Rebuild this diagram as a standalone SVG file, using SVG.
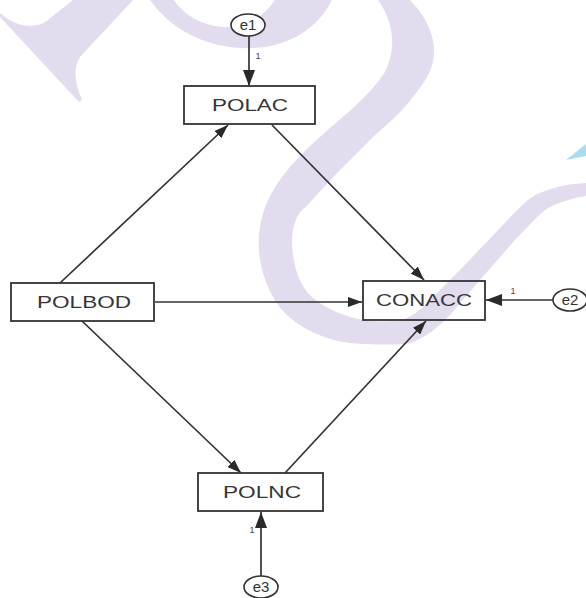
<svg xmlns="http://www.w3.org/2000/svg" width="586" height="598" viewBox="0 0 586 598">
<style>
.wm{fill:#e3dcee;stroke:none}
.box{fill:none;stroke:#333;stroke-width:1.8}
.err{fill:#fff;stroke:#333;stroke-width:1.6}
.lbl{font-family:"Liberation Sans",Arial,sans-serif;font-size:16px;fill:#363636;text-anchor:middle}
.elbl{font-family:"Liberation Sans",Arial,sans-serif;font-size:15px;fill:#333;text-anchor:middle}
.one{font-family:"Liberation Sans",Arial,sans-serif;font-size:9px;fill:#444;text-anchor:middle}
.edge{stroke:#333;stroke-width:1.7;fill:none}
</style>
<defs>
<marker id="ah" viewBox="0 0 14 10" refX="14" refY="5" markerWidth="14" markerHeight="10" markerUnits="userSpaceOnUse" orient="auto"><path d="M0,0 L14,5 L0,10 z" fill="#2a2a2a"/></marker>
<marker id="ahb" viewBox="0 0 16 12" refX="16" refY="6" markerWidth="16" markerHeight="12" markerUnits="userSpaceOnUse" orient="auto"><path d="M0,0 L16,6 L0,12 z" fill="#2a2a2a"/></marker>
</defs>
<rect width="586" height="598" fill="#fff"/>
<g id="watermark">
<path class="wm" d="M73,0 L133,0 L80,57 Q70,72 82,100 L79,102 L0,17 L0,13 Q22,32 44,23 Z"/>
<path class="wm" d="M150,0 C175,35 215,50 255,48 C290,46 318,28 332,0 L275,0 C260,22 238,30 215,26 C195,22 182,12 174,0 Z"/>
<path class="wm" d="M378,0 C392,20 398,45 385,72 C370,95 345,115 330,128 C305,150 278,175 266,205 C254,235 256,272 278,305 C295,328 330,344 365,344 C390,345 405,345 413,342 C430,335 440,325 450,315 L480,280 L515,240 C530,225 540,212 550,207 C565,200 575,198 586,196 L586,183 C570,184 555,186 535,195 C520,205 510,218 500,228 L460,270 L425,305 C415,315 405,320 395,321 C380,322 370,321 363,320 C345,317 325,308 313,298 C298,285 292,262 292,240 C293,222 298,212 306,207 C316,195 328,183 338,172 L375,135 C395,118 405,108 412,98 C425,82 432,72 434,55 C435,38 428,18 410,0 Z"/>
<polygon points="566,160 586,144 586,156" fill="#a9dcef"/>
</g>
<g id="connectors">
<line class="edge" x1="60" y1="283" x2="228" y2="125" marker-end="url(#ah)"/>
<line class="edge" x1="272" y1="125" x2="424" y2="280" marker-end="url(#ah)"/>
<line class="edge" x1="155" y1="302" x2="362" y2="302" marker-end="url(#ah)"/>
<line class="edge" x1="82" y1="321" x2="241" y2="473" marker-end="url(#ah)"/>
<line class="edge" x1="285" y1="473" x2="426" y2="321" marker-end="url(#ah)"/>
<line class="edge" x1="249" y1="36" x2="249" y2="86" stroke-width="2" marker-end="url(#ahb)"/>
<line class="edge" x1="553" y1="300" x2="486" y2="300" stroke-width="2" marker-end="url(#ahb)"/>
<line class="edge" x1="261" y1="576" x2="261" y2="512" stroke-width="2" marker-end="url(#ahb)"/>
<text class="one" x="258" y="59">1</text>
<text class="one" x="513" y="294">1</text>
<text class="one" x="252" y="533">1</text>
</g>
<g id="POLAC">
<rect class="box" x="184" y="86" width="131" height="38"/>
<text class="lbl" x="250" y="111" textLength="76" lengthAdjust="spacingAndGlyphs">POLAC</text>
</g>
<g id="POLBOD">
<rect class="box" x="11" y="283" width="143" height="38"/>
<text class="lbl" x="84" y="308" textLength="94" lengthAdjust="spacingAndGlyphs">POLBOD</text>
</g>
<g id="CONACC">
<rect class="box" x="363" y="281" width="122" height="39"/>
<text class="lbl" x="424" y="306" textLength="96" lengthAdjust="spacingAndGlyphs">CONACC</text>
</g>
<g id="POLNC">
<rect class="box" x="198" y="473" width="125" height="38"/>
<text class="lbl" x="262" y="498" textLength="78" lengthAdjust="spacingAndGlyphs">POLNC</text>
</g>
<g id="e1">
<ellipse class="err" cx="248" cy="25" rx="17" ry="11"/>
<text class="elbl" x="248" y="30">e1</text>
</g>
<g id="e2">
<ellipse class="err" cx="570" cy="300" rx="17" ry="11"/>
<text class="elbl" x="570" y="305">e2</text>
</g>
<g id="e3">
<ellipse class="err" cx="261" cy="587" rx="17" ry="11"/>
<text class="elbl" x="261" y="592">e3</text>
</g>
</svg>
